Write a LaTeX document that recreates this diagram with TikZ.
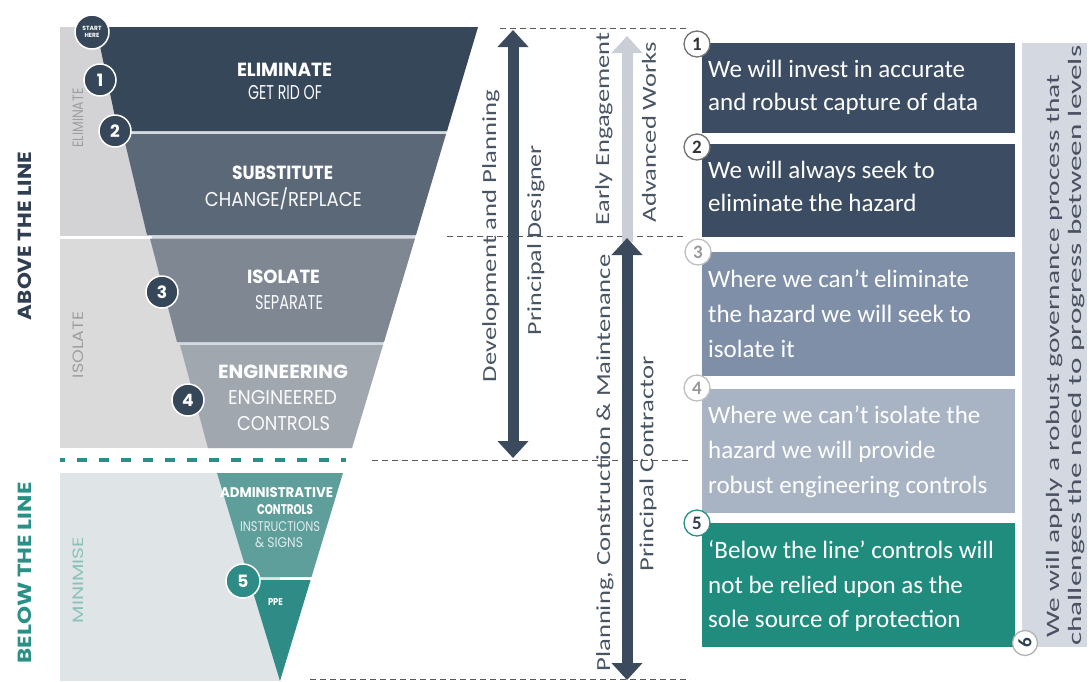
\documentclass[tikz,border=0pt]{standalone}
\usepackage{fontspec}
\usepackage{graphicx}
\setmainfont{Carlito}
\newfontfamily\popf{Poppins}
\usetikzlibrary{arrows.meta}
\definecolor{cElim}{HTML}{36475A}
\definecolor{cSub}{HTML}{5B6877}
\definecolor{cIso}{HTML}{7E8792}
\definecolor{cEng}{HTML}{A1A7AF}
\definecolor{cSep}{HTML}{D3D9DF}
\definecolor{cAdm}{HTML}{5E9F9C}
\definecolor{cPPE}{HTML}{2E8B85}
\definecolor{cPanA}{HTML}{D3D3D6}
\definecolor{cPanB}{HTML}{DADADB}
\definecolor{cPanC}{HTML}{DFE5E6}
\definecolor{cTeal}{HTML}{2A8F84}
\definecolor{cArrow}{HTML}{3C4A5E}
\definecolor{cArrowL}{HTML}{CACFD7}
\definecolor{cBoxA}{HTML}{3B4C63}
\definecolor{cBoxC}{HTML}{7E8FA7}
\definecolor{cBoxD}{HTML}{A8B3C4}
\definecolor{cBoxE}{HTML}{1F8C7E}
\definecolor{cSide}{HTML}{D4D8E0}
\definecolor{cSideT}{HTML}{4A5162}
\definecolor{cDark}{HTML}{2F3E50}
\definecolor{cMidT}{HTML}{4A5563}
\newcommand\fitw[2]{\resizebox{#1pt}{\height}{#2}}
\begin{document}
\begin{tikzpicture}[x=1pt,y=-1pt,
  >={Triangle[width=30pt,length=17pt]},
  ttl/.style={inner sep=0, text=white, font=\popf\bfseries\fontsize{19}{20}\selectfont},
  sub/.style={inner sep=0, text=white!88!cSep, font=\popf\fontsize{20}{22}\selectfont},
  side/.style={inner sep=0, rotate=90, font=\popf\fontsize{15}{16}\selectfont},
  fcirc/.style={circle, fill=cElim, draw=white, line width=1.5pt, minimum size=32pt, inner sep=0, text=white, font=\popf\bfseries\fontsize{17}{18}\selectfont},
  rcirc/.style={circle, fill=white, draw=#1, line width=1.3pt, minimum size=26pt, inner sep=0, font=\bfseries\fontsize{19}{20}\selectfont},
  dline/.style={draw=black!65, line width=0.9pt, dash pattern=on 6pt off 4pt},
  darr/.style={draw=cArrow, line width=11pt},
  mid/.style={inner sep=0, rotate=90, text=cMidT, font=\fontsize{20}{24}\selectfont},
  box/.style={inner sep=0, anchor=north west, minimum width=313pt},
  btxt/.style={inner sep=0, anchor=base west, text=white, font=\fontsize{25}{30}\selectfont},
]
\useasboundingbox (0,0) rectangle (1089,681);
\fill[white] (0,0) rectangle (1089,681);

% left panels
\fill[cPanA] (60,27) rectangle (250,236);
\fill[cPanB] (60,238.5) rectangle (250,448);
\fill[cPanC] (60,473) rectangle (280,681);

% funnel
\fill[cSep] (96,27) -- (478,27) -- (352,448) -- (208,448) -- cycle;
\fill[cElim] (96,27) -- (478,27) -- (447,131) -- (118,131) -- cycle;
\fill[cSub] (123,134) -- (446,134) -- (416,235) -- (147,235) -- cycle;
\fill[cIso] (150,238.5) -- (415,238.5) -- (384,342) -- (177,342) -- cycle;
\fill[cEng] (180,345) -- (383,345) -- (352,448) -- (208,448) -- cycle;
\fill[white] (60,236) rectangle (149,238);

% lower triangle
\fill[cAdm] (217,473) -- (343,473) -- (311.5,577) -- (248.5,577) -- cycle;
\fill[cPPE] (249.4,580) -- (310.6,580) -- (280,681) -- cycle;

% teal dashed line
\draw[cTeal, line width=4.5pt, dash pattern=on 10pt off 12pt, dash phase=5pt] (60,460) -- (346,460);

% side labels
\node[inner sep=0, rotate=90, text=cDark, font=\popf\bfseries\fontsize{19}{20}\selectfont] (above) at (25,236) {\fitw{168}{ABOVE THE LINE}};
\node[inner sep=0, rotate=90, text=cTeal, font=\popf\bfseries\fontsize{19}{20}\selectfont] (below) at (25,573) {\fitw{181}{BELOW THE LINE}};
\node[side, text=black!38] (selim) at (78,118) {\fitw{59}{ELIMINATE}};
\node[side, text=black!38] (siso) at (78,345) {\fitw{66}{ISOLATE}};
\node[side, text=cTeal!55] (smin) at (78,580) {\fitw{86}{MINIMISE}};

% funnel labels
\node[ttl] (telim) at (284.5,70) {\fitw{95}{ELIMINATE}};
\node[sub] (selim2) at (285,93) {\fitw{74}{GET RID OF}};
\node[ttl] (tsub) at (282.5,173) {\fitw{101}{SUBSTITUTE}};
\node[sub] (ssub) at (283.5,199) {\fitw{157}{CHANGE/REPLACE}};
\node[ttl] (tiso) at (283.5,277) {\fitw{73}{ISOLATE}};
\node[sub] (siso2) at (289,303) {\fitw{68}{SEPARATE}};
\node[ttl] (teng) at (283,372) {\fitw{130}{ENGINEERING}};
\node[sub] (seng1) at (282.5,398) {\fitw{109}{ENGINEERED}};
\node[sub] (seng2) at (283.5,423) {\fitw{93}{CONTROLS}};
\node[ttl, font=\popf\bfseries\fontsize{14}{15}\selectfont] (tadm1) at (276.5,493) {\fitw{113}{ADMINISTRATIVE}};
\node[ttl, font=\popf\bfseries\fontsize{14}{15}\selectfont] (tadm2) at (285,510) {\fitw{56}{CONTROLS}};
\node[sub, text=white!80!cAdm, font=\popf\fontsize{14}{15}\selectfont] (sadm1) at (280,527) {\fitw{80}{INSTRUCTIONS}};
\node[sub, text=white!80!cAdm, font=\popf\fontsize{14}{15}\selectfont] (sadm2) at (279,543) {\fitw{48}{\& SIGNS}};
\node[ttl, font=\popf\bfseries\fontsize{10}{11}\selectfont] (tppe) at (275.5,602) {\fitw{15}{PPE}};

% funnel circles
\node[fcirc, minimum size=34pt, font=\popf\bfseries\fontsize{6}{7}\selectfont, align=center] (start) at (92,32) {START\\HERE};
\node[fcirc] (c1) at (100,80) {1};
\node[fcirc] (c2) at (115,131) {2};
\node[fcirc] (c3) at (162,292) {3};
\node[fcirc] (c4) at (188,400) {4};
\node[fcirc, fill=cPPE, minimum size=34pt] (c5) at (243,581) {5};

% dashed guide lines
\coordinate (d1a) at (500,28); \coordinate (d1b) at (690,28);
\coordinate (d2a) at (447,236); \coordinate (d2b) at (686,236);
\coordinate (d3a) at (372,460); \coordinate (d3b) at (690,460);
\coordinate (d4a) at (310,679); \coordinate (d4b) at (690,679);
\draw[dline] (d1a) -- (d1b);
\draw[dline] (d2a) -- (d2b);
\draw[dline] (d3a) -- (d3b);
\draw[dline] (d4a) -- (d4b);

% arrows
\coordinate (pdT) at (513,30); \coordinate (pdB) at (513,458);
\coordinate (ewB) at (627,242); \coordinate (ewT) at (627,36);
\coordinate (pcT) at (627,238); \coordinate (pcB) at (627,680);
\draw[darr, draw=cArrowL, ->] (ewB) -- (ewT);
\draw[darr, <->] (pdT) -- (pdB);
\draw[darr, <->] (pcT) -- (pcB);

% middle texts
\node[mid] (dp) at (491,236) {\fitw{292}{Development and Planning}};
\node[mid] (pd) at (536,240) {\fitw{190}{Principal Designer}};
\node[mid] (ee) at (604,129) {\fitw{192}{Early Engagement}};
\node[mid] (aw) at (649,132) {\fitw{180}{Advanced Works}};
\node[mid] (pcm) at (605,463) {\fitw{417}{Planning, Construction \& Maintenance}};
\node[mid] (pc) at (648,464) {\fitw{215}{Principal Contractor}};

% right boxes
\node[box, fill=cBoxA, minimum height=90pt] (b1) at (702,43) {};
\node[box, fill=cBoxA, minimum height=93pt] (b2) at (702,144) {};
\node[box, fill=cBoxC, minimum height=124pt] (b3) at (702,252) {};
\node[box, fill=cBoxD, minimum height=124pt] (b4) at (702,389) {};
\node[box, fill=cBoxE, minimum height=124pt] (b5) at (702,523) {};

\node[btxt] (t11) at (708,77) {We will invest in accurate};
\node[btxt] (t12) at (708,110) {and robust capture of data};
\node[btxt] (t21) at (708,178) {We will always seek to};
\node[btxt] (t22) at (708,211) {eliminate the hazard};
\node[btxt] (t31) at (708,287) {Where we can’t eliminate};
\node[btxt] (t32) at (708,322) {the hazard we will seek to};
\node[btxt] (t33) at (708,357) {isolate it};
\node[btxt] (t41) at (708,423) {Where we can’t isolate the};
\node[btxt] (t42) at (708,458) {hazard we will provide};
\node[btxt] (t43) at (708,493) {robust engineering controls};
\node[btxt] (t51) at (708,558) {‘Below the line’ controls will};
\node[btxt] (t52) at (708,593) {not be relied upon as the};
\node[btxt] (t53) at (708,627) {sole source of protection};

\node[rcirc=black!55, text=black!80] (r1) at (697,44) {1};
\node[rcirc=black!55, text=black!80] (r2) at (697,147) {2};
\node[rcirc=black!25, text=black!40] (r3) at (698,252) {3};
\node[rcirc=black!25, text=black!40] (r4) at (697,388) {4};
\node[rcirc=cTeal, text=cDark] (r5) at (697,523) {5};

% right side panel
\fill[cSide] (1022,43) rectangle (1087,647);
\node[inner sep=0, rotate=90, anchor=base west, text=cSideT, font=\fontsize{19}{24}\selectfont] (s1) at (1059,638) {\fitw{563}{We will apply a robust governance process that}};
\node[inner sep=0, rotate=90, anchor=base west, text=cSideT, font=\fontsize{19}{24}\selectfont] (s2) at (1081,646) {\fitw{600}{challenges the need to progress between levels}};
\node[rcirc=black!30, text=cDark, minimum size=25pt, rotate=90] (r6) at (1025,643) {6};
\end{tikzpicture}
\end{document}
